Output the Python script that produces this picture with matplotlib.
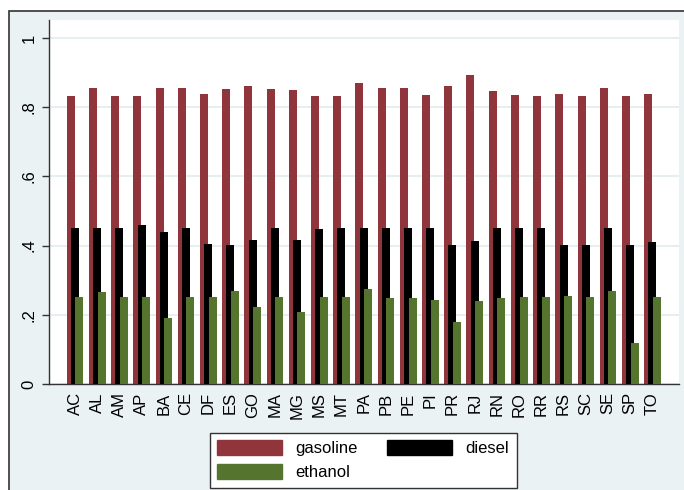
import numpy as np
import matplotlib
matplotlib.use('Agg')
import matplotlib.pyplot as plt
from matplotlib.patches import Rectangle, Patch

plt.rcParams['font.family'] = ['Liberation Sans', 'DejaVu Sans']

# Dados
states = ['AC', 'AL', 'AM', 'AP', 'BA', 'CE', 'DF', 'ES', 'GO', 'MA', 'MG', 'MS', 'MT', 'PA',
          'PB', 'PE', 'PI', 'PR', 'RJ', 'RN', 'RO', 'RR', 'RS', 'SC', 'SE', 'SP', 'TO']
gasoline = [0.832, 0.855, 0.832, 0.832, 0.855, 0.855, 0.837, 0.853, 0.860, 0.853, 0.849, 0.832, 0.832, 0.869,
            0.855, 0.855, 0.834, 0.860, 0.893, 0.846, 0.834, 0.832, 0.839, 0.832, 0.855, 0.832, 0.837]
diesel = [0.452, 0.452, 0.452, 0.460, 0.440, 0.452, 0.405, 0.402, 0.416, 0.452, 0.416, 0.447, 0.452, 0.452,
          0.452, 0.452, 0.452, 0.402, 0.413, 0.452, 0.452, 0.452, 0.402, 0.402, 0.452, 0.402, 0.411]
ethanol = [0.250, 0.267, 0.250, 0.250, 0.192, 0.250, 0.252, 0.270, 0.223, 0.250, 0.207, 0.250, 0.250, 0.276,
           0.248, 0.248, 0.243, 0.178, 0.241, 0.248, 0.250, 0.250, 0.255, 0.250, 0.270, 0.119, 0.252]

c_gas = '#90353B'
c_die = '#000000'
c_eth = '#55752F'
bg = '#EAF2F3'

fig = plt.figure(figsize=(6.84, 4.90), dpi=100)
fig.patch.set_facecolor('white')

# moldura externa estilo Stata
frame = Rectangle((9 / 684, -0.2), 1.2, 1.2 - 11 / 490, transform=fig.transFigure,
                  facecolor=bg, edgecolor='#333333', linewidth=1.2, zorder=-10)
fig.add_artist(frame)

ax = fig.add_axes([49 / 684, 1 - 384 / 490, 630 / 684, 364 / 490])
ax.set_zorder(1)
ax.set_facecolor('white')

x = np.arange(len(states))
w = 0.36
ax.bar(x - 0.19, gasoline, w, color=c_gas, zorder=2)
ax.bar(x, diesel, w, color=c_die, zorder=3)
ax.bar(x + 0.2, ethanol, w, color=c_eth, zorder=4)

ax.set_xlim(-1.17, len(states) - 1 + 1.2)
ax.set_ylim(0, 1.052)
ax.set_yticks([0, 0.2, 0.4, 0.6, 0.8, 1])
ax.set_yticklabels(['0', '.2', '.4', '.6', '.8', '1'], rotation=90, va='center', fontsize=12)
ax.set_xticks(x)
ax.set_xticklabels(states, rotation=90, fontsize=12)
ax.tick_params(axis='x', length=0, pad=6)
ax.tick_params(axis='y', length=5, width=1, color='#333333', pad=4)
ax.grid(axis='y', color='#E2ECEE', linewidth=1.2, zorder=1)
ax.set_axisbelow(True)
for s in ['top', 'right']:
    ax.spines[s].set_visible(False)
for s in ['left', 'bottom']:
    ax.spines[s].set_color('#333333')
    ax.spines[s].set_linewidth(1)

handles = [Patch(color=c_gas, label='gasoline'), Patch(color=c_eth, label='ethanol'),
           Patch(color=c_die, label='diesel')]
leg = fig.legend(handles=handles, ncol=2, loc='center', bbox_to_anchor=(0.531, 0.061),
                 fontsize=12, handlelength=3.9, handleheight=1.0, handletextpad=0.8,
                 columnspacing=1.75, labelspacing=0.45, fancybox=False, framealpha=1,
                 edgecolor='#333333', borderpad=0.45)
leg.get_frame().set_linewidth(1)

plt.savefig('out.png', dpi=100)
